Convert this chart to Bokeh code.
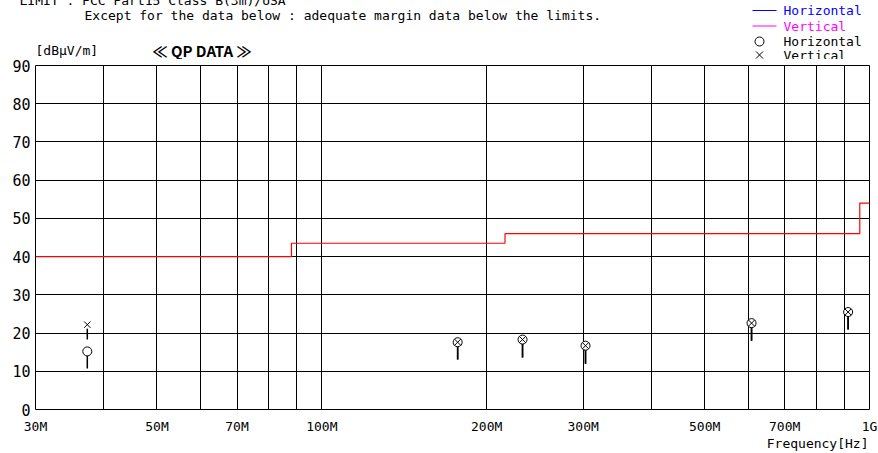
from bokeh.plotting import figure
from bokeh.layouts import column, row
from bokeh.models import Range1d, FixedTicker
from bokeh.core.properties import value
from bokeh.embed import file_html
from bokeh.resources import INLINE

# ---- data ----
x_ticks = [30, 50, 70, 100, 200, 300, 500, 700, 1000]
x_tick_labels = ["30M", "50M", "70M", "100M", "200M", "300M", "500M", "700M", "1G"]
x_minor = [40, 60, 80, 90, 400, 600, 800, 900]
y_ticks = [0, 10, 20, 30, 40, 50, 60, 70, 80, 90]

limit_edges = [30, 88, 216, 960, 1000]          # MHz
limit_values = [40, 43.5, 46, 54]               # dBuV/m

freq = [37.3, 177, 232.5, 303, 609, 914]        # MHz
qp_h = [15.2, 17.6, 18.3, 16.7, 22.6, 25.5]     # Horizontal (circle)
qp_v = [22.2, 17.6, 18.3, 16.7, 22.6, 25.5]     # Vertical (x)
stem_h = [10.7, 13.1, 13.6, 12.0, 18.0, 20.9]
stem_v = [18.3, 13.1, 13.6, 12.0, 18.0, 20.9]

W = 878
MONO = "DejaVu Sans Mono"
TOP = -8                 # page y of the top of the layout
FL, FR = 35, 869         # page x of the plot frame
HEAD_END = 59
MAIN_END = 436


def blank(height, yspan):
    f = figure(width=W, height=height, output_backend="svg", toolbar_location=None,
               x_range=Range1d(0, W), y_range=Range1d(yspan[1], yspan[0]),
               min_border=0, x_axis_location=None, y_axis_location=None)
    f.grid.visible = False
    f.outline_line_color = None
    f.background_fill_color = "white"
    f.border_fill_color = "white"
    return f


def put_text(fig, px, py, text, color="black", size="13px", font=MONO, align="left", style="normal"):
    fig.text(x=[px], y=[py], text=[text], text_color=color, text_font=value(font),
             text_font_size=size, text_align=align, text_baseline="middle",
             text_font_style=style)


# ---- header (coordinates: page pixels) ----
head = blank(HEAD_END - TOP, (TOP, HEAD_END))
put_text(head, 19, 0, "LIMIT : FCC Part15 Class B(3m)/USA")
put_text(head, 84, 15, "Except for the  data below : adequate margin data below the limits.")
put_text(head, 35, 50, "[dBμV/m]")
put_text(head, 152, 50, "≪ QP DATA ≫", size="15px", font="Noto Sans CJK JP", style="bold")
put_text(head, 783, 10, "Horizontal", color="#0000ff")
put_text(head, 783, 25.5, "Vertical", color="#ff00ff")
put_text(head, 783, 41, "Horizontal")
put_text(head, 783, 54.5, "Vertical")
head.segment(x0=[752, 752], y0=[10, 25.5], x1=[776, 776], y1=[10, 25.5],
             line_color=["#0000ff", "#ff00ff"], line_width=1)
head.scatter(x=[759], y=[41], marker="circle", size=9, fill_color=None, line_color="black")
head.scatter(x=[759], y=[54.5], marker="x", size=10, line_color="black")

# ---- main chart ----
p = figure(width=W, height=MAIN_END - HEAD_END, x_axis_type="log", output_backend="svg",
           toolbar_location=None, x_range=Range1d(30, 1000), y_range=Range1d(0, 90),
           min_border_left=FL, min_border_right=W - FR, min_border_top=65 - HEAD_END,
           min_border_bottom=MAIN_END - 409)
p.outline_line_color = "black"
p.outline_line_width = 1
p.background_fill_color = "white"
p.border_fill_color = "white"

p.xaxis.ticker = FixedTicker(ticks=x_ticks, minor_ticks=x_minor)
p.xaxis.major_label_overrides = {float(t): l for t, l in zip(x_ticks, x_tick_labels)}
p.yaxis.ticker = FixedTicker(ticks=y_ticks)
for ax in (p.xaxis, p.yaxis):
    ax.axis_line_color = None
    ax.major_tick_line_color = None
    ax.minor_tick_line_color = None
    ax.major_tick_out = 0
    ax.minor_tick_out = 0
    ax.major_label_text_font = MONO
    ax.major_label_text_color = "black"
p.xaxis.major_label_text_font_size = "13px"
p.yaxis.major_label_text_font_size = "15px"
p.xaxis.major_label_standoff = 9
p.yaxis.major_label_standoff = 5

for g in (p.xgrid, p.ygrid):
    g.grid_line_color = "black"
    g.grid_line_width = 1
    g.grid_line_alpha = 1
p.xgrid.minor_grid_line_color = "black"
p.xgrid.minor_grid_line_alpha = 1

# limit step line
lx, ly = [], []
for i, v in enumerate(limit_values):
    lx += [limit_edges[i], limit_edges[i + 1]]
    ly += [v, v]
p.line(lx, ly, line_color="#ff0000", line_width=1.2)

# stems and markers
p.segment(x0=freq, y0=stem_h, x1=freq, y1=qp_h, line_color="black", line_width=1.5)
p.segment(x0=freq, y0=stem_v, x1=freq, y1=qp_v, line_color="black", line_width=1.5)
p.scatter(freq, qp_v, marker="circle", size=8, fill_color="white", line_color=None)
p.scatter(freq, qp_h, marker="circle", size=9, fill_color="white", line_color="black", line_width=1)
p.scatter(freq, qp_v, marker="x", size=9, line_color="black", line_width=1)

# ---- footer ----
foot = blank(453 - MAIN_END, (MAIN_END, 453))
put_text(foot, 868, 443, "Frequency[Hz]", align="right")

layout = column(row(head), p, row(foot), spacing=0)
layout.styles = {"margin-top": "-8px"}

open("out.html", "w").write(file_html(layout, INLINE))
